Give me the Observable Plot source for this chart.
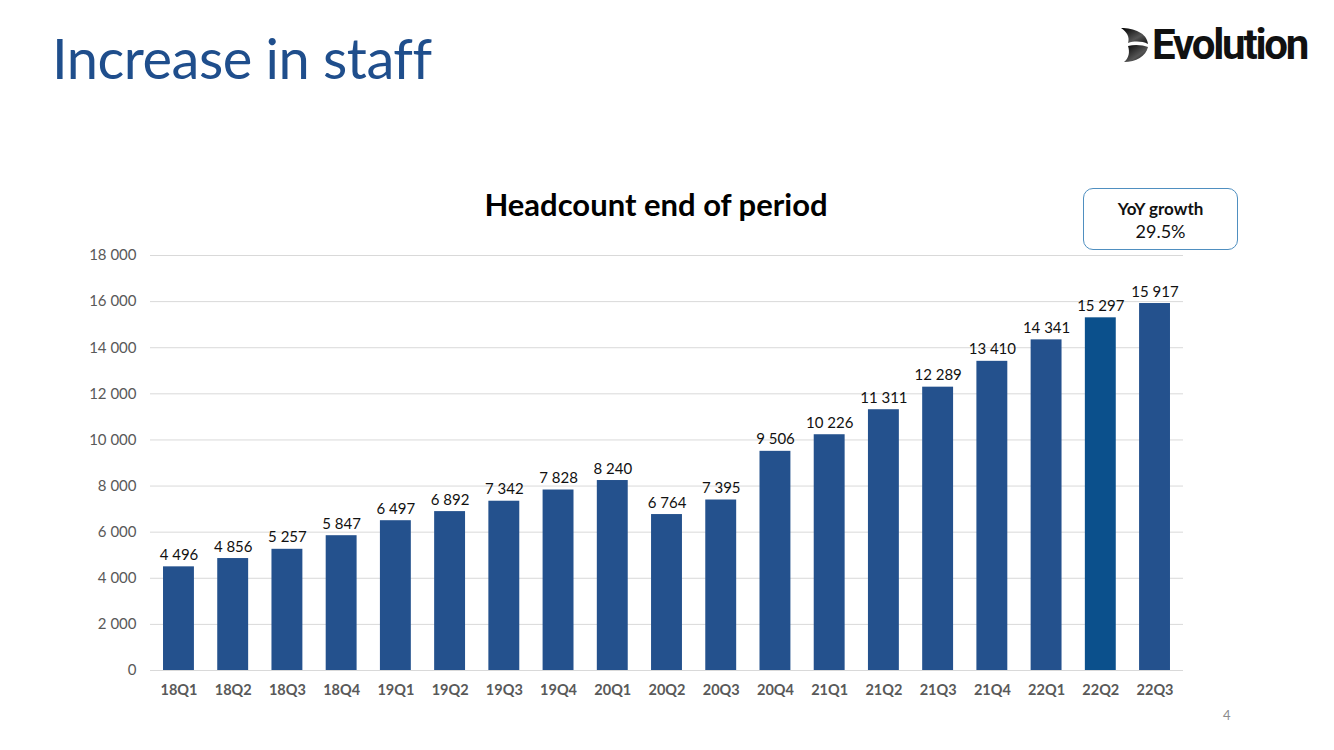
<!DOCTYPE html>
<html>
<head>
<meta charset="utf-8">
<script src="https://cdn.jsdelivr.net/npm/d3@7"></script>
<script src="https://cdn.jsdelivr.net/npm/@observablehq/plot@0.6"></script>
<style>
  html, body { margin: 0; padding: 0; background: #fff; }
  body { width: 1334px; height: 750px; position: relative; overflow: hidden; font-family: Lato, "Open Sans", sans-serif; }
  #page-title { position: absolute; left: 52px; top: 24px; font-size: 56px; color: #1f4e8c; letter-spacing: -0.5px; white-space: nowrap; }
  #logo { position: absolute; left: 1120px; top: 24px; height: 42px; display: flex; align-items: center; }
  #logo span { font-family: Roboto, sans-serif; font-weight: 700; font-size: 42px; color: #111; letter-spacing: -2.2px; line-height: 42px; margin-left: 2px; }
  #chart-title { position: absolute; left: 0; width: 1312px; top: 185px; text-align: center; font-weight: 700; font-size: 31px; color: #000; }
  #yoy { position: absolute; left: 1083px; top: 188px; width: 155px; height: 62px; border: 1.5px solid #4f8fc0; border-radius: 10px; text-align: center; box-sizing: border-box; }
  #yoy .h { font-weight: 700; font-size: 17px; margin-top: 9px; color: #111; }
  #yoy .v { font-size: 18px; margin-top: 1px; color: #111; }
  #page-no { position: absolute; left: 1223px; top: 707px; font-size: 13px; color: #8c8c8c; }
  #chart { position: absolute; left: 0; top: 0; }
</style>
</head>
<body>
<div id="chart"></div>
<div id="page-title">Increase in staff</div>
<div id="logo">
  <svg width="30" height="36" viewBox="0 0 30 36">
    <defs>
      <linearGradient id="lg1" x1="0" y1="0" x2="1" y2="1">
        <stop offset="0" stop-color="#000"/>
        <stop offset="0.6" stop-color="#555"/>
        <stop offset="1" stop-color="#111"/>
      </linearGradient>
    </defs>
    <path d="M1 1 C14 1 27 6 28 17 C22 14 14 14 8 16 C10 10 7 5 1 1 Z" fill="url(#lg1)"/>
    <path d="M8 19 C15 17 23 18 28 20 C26 29 16 35 4 35 C9 31 10 25 8 19 Z" fill="url(#lg1)"/>
  </svg>
  <span>Evolution</span>
</div>
<div id="chart-title">Headcount end of period</div>
<div id="yoy"><div class="h">YoY growth</div><div class="v">29.5%</div></div>
<div id="page-no">4</div>
<script>
// Quarterly headcount at end of period
const quarters = ["18Q1","18Q2","18Q3","18Q4","19Q1","19Q2","19Q3","19Q4","20Q1","20Q2","20Q3","20Q4","21Q1","21Q2","21Q3","21Q4","22Q1","22Q2","22Q3"];
const headcount = [4496, 4856, 5257, 5847, 6497, 6892, 7342, 7828, 8240, 6764, 7395, 9506, 10226, 11311, 12289, 13410, 14341, 15297, 15917];
const highlighted = ["22Q2"];
const yTicks = [0, 2000, 4000, 6000, 8000, 10000, 12000, 14000, 16000, 18000];

const rows = quarters.map((q, i) => ({quarter: q, value: headcount[i], hi: highlighted.includes(q)}));
const fmt = v => d3.format(",")(v).replace(/,/g, " ");

const chart = Plot.plot({
  width: 1334,
  height: 750,
  marginLeft: 150,
  marginRight: 151,
  marginTop: 255,
  marginBottom: 80,
  style: {fontFamily: "Lato, 'Open Sans', sans-serif", background: "transparent"},
  x: {domain: quarters, paddingInner: 0.43, paddingOuter: 0.24, round: false, label: null},
  y: {domain: [0, 18000], label: null},
  marks: [
    Plot.gridY(yTicks, {stroke: "#d9d9d9", strokeOpacity: 1, strokeWidth: 1}),
    Plot.barY(rows, {x: "quarter", y: "value", fill: d => d.hi ? "#0b508c" : "#24518d"}),
    Plot.text(rows, {x: "quarter", y: "value", text: d => fmt(d.value), dy: -7, lineAnchor: "bottom", fontSize: 15, fill: "#111"}),
    Plot.axisY(yTicks, {tickSize: 0, tickPadding: 14, tickFormat: fmt, fontSize: 15, fill: "#595959", label: null}),
    Plot.axisX({tickSize: 0, tickPadding: 14, fontSize: 14.5, fontWeight: 700, fill: "#595959", label: null})
  ]
});
document.getElementById("chart").appendChild(chart);
</script>
</body>
</html>
